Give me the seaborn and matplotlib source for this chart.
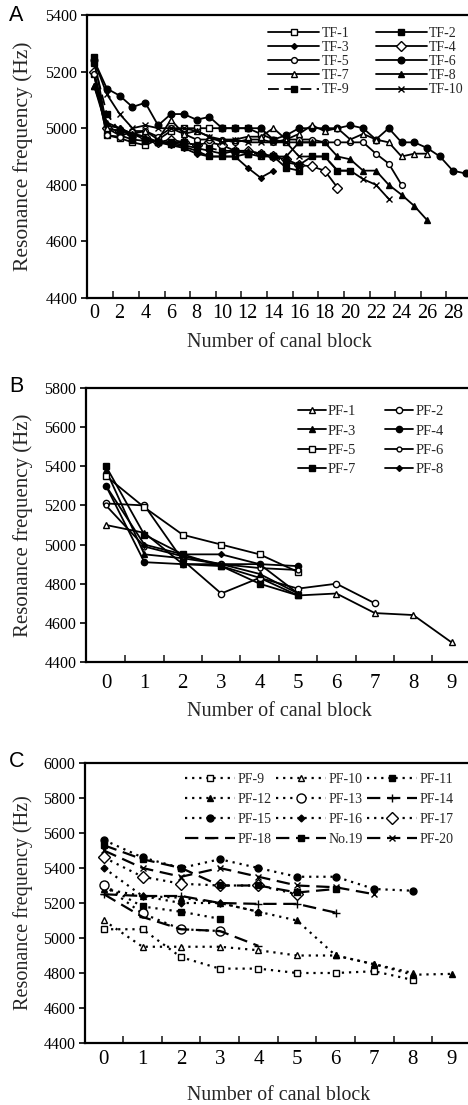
import numpy as np
import pandas as pd
import matplotlib
matplotlib.use("Agg")
import matplotlib.pyplot as plt
import seaborn as sns

# ---------------- data ----------------
# Panel A (TF series)
tf_names = ["TF-1", "TF-2", "TF-3", "TF-4", "TF-5", "TF-6", "TF-7", "TF-8", "TF-9", "TF-10"]
tf1 = [5190, 4975, 4965, 4950, 4940, 4960, 4990, 5000, 5000, 5000, 5000, 5000, 5000, 4980, 4960, 4950, 4950, 4950]
tf2 = [5250, 5000, 4975, 4960, 4955, 4950, 4945, 4935, 4920, 4900, 4900, 4900, 4910, 4900, 4900, 4860, 4850]
tf3 = [5200, 5010, 5000, 4980, 4960, 4950, 4940, 4930, 4910, 4900, 4900, 4900, 4860, 4825, 4850]
tf4 = [5200, 5000, 4990, 4980, 4970, 4950, 4960, 4950, 4940, 4950, 4940, 4920, 4920, 4910, 4900, 4890, 4870,
       4865, 4850, 4790]
tf5 = [5190, 4975, 4970, 4990, 4990, 4970, 5000, 4980, 4960, 4960, 4960, 4950, 4960, 4960, 4950, 4960, 4960,
       4960, 4950, 4950, 4950, 4950, 4910, 4875, 4800]
tf6 = [5240, 5140, 5115, 5075, 5090, 5010, 5050, 5050, 5030, 5040, 5000, 5000, 5000, 5000, 4960, 4975, 5000,
       5000, 5000, 5000, 5010, 5000, 4960, 5000, 4950, 4950, 4930, 4900, 4850, 4840]
tf7 = [5150, 5000, 4990, 4980, 4990, 4960, 5030, 4980, 4990, 4970, 4960, 4960, 4970, 4970, 5000, 4960, 4980,
       5010, 4990, 5000, 4960, 4980, 4960, 4950, 4900, 4910, 4910]
tf8 = [5150, 5020, 5000, 4980, 4970, 4950, 4950, 4940, 4930, 4920, 4910, 4920, 4920, 4910, 4900, 4900, 4950,
       4950, 4950, 4900, 4890, 4850, 4850, 4800, 4765, 4725, 4675]
tf9 = [5230, 5050, 4990, 4970, 4960, 4950, 4950, 4950, 4940, 4930, 4920, 4920, 4910, 4910, 4900, 4880, 4870,
       4900, 4900, 4850, 4850]
tf10 = [5240, 5120, 5050, 5000, 5010, 5000, 5000, 5000, 4990, 4970, 4950, 4960, 4950, 4950, 4950, 4950, 4900,
        4900, 4900, 4850, 4850, 4820, 4800, 4750]
tf_values = [tf1, tf2, tf3, tf4, tf5, tf6, tf7, tf8, tf9, tf10]
tf_xticks = list(range(0, 29, 2))

# Panel B (PF-1 .. PF-8)
pfb_names = ["PF-1", "PF-2", "PF-3", "PF-4", "PF-5", "PF-6", "PF-7", "PF-8"]
pf1 = [5100, 5060, 4900, 4890, 4830, 4740, 4750, 4650, 4640, 4500]
pf2 = [5210, 5200, 4920, 4750, 4830, 4775, 4800, 4700]
pf3 = [5380, 4950, 4930, 4900, 4850, 4750]
pf4 = [5300, 4910, 4900, 4900, 4900, 4890]
pf5 = [5350, 5190, 5050, 5000, 4950, 4860]
pf6 = [5200, 4990, 4940, 4900, 4880, 4870]
pf7 = [5400, 5050, 4950, 4890, 4800, 4740]
pf8 = [5300, 5000, 4950, 4950, 4900, 4750]
pfb_values = [pf1, pf2, pf3, pf4, pf5, pf6, pf7, pf8]
pfb_xticks = list(range(0, 10))

# Panel C (PF-9 .. PF-20)
pfc_names = ["PF-9", "PF-10", "PF-11", "PF-12", "PF-13", "PF-14", "PF-15", "PF-16", "PF-17",
             "PF-18", "No.19", "PF-20"]
pf9 = [5050, 5050, 4890, 4825, 4825, 4800, 4800, 4810, 4760]
pf10 = [5100, 4950, 4950, 4950, 4930, 4900, 4900, 4850, 4800]
pf11 = [5300, 5180, 5150, 5110]
pf12 = [5280, 5240, 5230, 5200, 5150, 5100, 4900, 4850, 4790, 4795]
pf13 = [5300, 5140, 5050, 5040]
pf14 = [5250, 5240, 5240, 5200, 5195, 5195, 5145]
pf15 = [5560, 5460, 5400, 5450, 5400, 5350, 5350, 5280, 5270]
pf16 = [5400, 5240, 5200, 5200, 5150]
pf17 = [5460, 5350, 5310, 5300, 5300, 5250]
pf18 = [5250, 5120, 5050, 5040, 4955]
no19 = [5530, 5450, 5400, 5300, 5300, 5260, 5280]
pf20 = [5500, 5400, 5350, 5400, 5350, 5300, 5290, 5250]
pfc_values = [pf9, pf10, pf11, pf12, pf13, pf14, pf15, pf16, pf17, pf18, no19, pf20]
pfc_xticks = list(range(0, 10))


def long_form(names, values):
    rows = []
    for n, v in zip(names, values):
        for i, y in enumerate(v):
            rows.append((n, i, y))
    return pd.DataFrame(rows, columns=["series", "block", "freq"])


dfA = long_form(tf_names, tf_values)
dfB = long_form(pfb_names, pfb_values)
dfC = long_form(pfc_names, pfc_values)

# ---------------- styles ----------------
DOT = (0, (1, 2.2))
DASH = (0, (6, 3))
stA = {
    "TF-1": dict(marker="s", fill=False, ls="-", ms=4.2),
    "TF-2": dict(marker="s", fill=True, ls="-", ms=4.5),
    "TF-3": dict(marker="D", fill=True, ls="-", ms=3.0),
    "TF-4": dict(marker="D", fill=False, ls="-", ms=4.8),
    "TF-5": dict(marker="o", fill=False, ls="-", ms=4.2),
    "TF-6": dict(marker="o", fill=True, ls="-", ms=4.8),
    "TF-7": dict(marker="^", fill=False, ls="-", ms=4.5),
    "TF-8": dict(marker="^", fill=True, ls="-", ms=4.5),
    "TF-9": dict(marker="s", fill=True, ls=DASH, ms=4.0),
    "TF-10": dict(marker="x", fill=True, ls="-", ms=4.5),
}
stB = {
    "PF-1": dict(marker="^", fill=False, ls="-", ms=4.2),
    "PF-2": dict(marker="o", fill=False, ls="-", ms=4.5),
    "PF-3": dict(marker="^", fill=True, ls="-", ms=4.5),
    "PF-4": dict(marker="o", fill=True, ls="-", ms=4.5),
    "PF-5": dict(marker="s", fill=False, ls="-", ms=4.5),
    "PF-6": dict(marker="o", fill=False, ls="-", ms=3.5),
    "PF-7": dict(marker="s", fill=True, ls="-", ms=4.8),
    "PF-8": dict(marker="D", fill=True, ls="-", ms=3.0),
}
stC = {
    "PF-9": dict(marker="s", fill=False, ls=DOT, ms=4.5),
    "PF-10": dict(marker="^", fill=False, ls=DOT, ms=4.5),
    "PF-11": dict(marker="s", fill=True, ls=DOT, ms=4.8),
    "PF-12": dict(marker="^", fill=True, ls=DOT, ms=5.0),
    "PF-13": dict(marker="o", fill=False, ls=DOT, ms=6.5),
    "PF-14": dict(marker="+", fill=True, ls=DASH, ms=6.0),
    "PF-15": dict(marker="o", fill=True, ls=DOT, ms=5.0),
    "PF-16": dict(marker="D", fill=True, ls=DOT, ms=3.5),
    "PF-17": dict(marker="D", fill=False, ls=DOT, ms=6.0),
    "PF-18": dict(marker="_", fill=True, ls=DASH, ms=6.0),
    "No.19": dict(marker="s", fill=True, ls=DASH, ms=4.2),
    "PF-20": dict(marker="x", fill=True, ls=DASH, ms=5.0),
}

sns.set_theme(style="white")
plt.rcParams["font.family"] = ["Liberation Serif", "DejaVu Serif"]
plt.rcParams["axes.linewidth"] = 1.6

W, H = 468, 1105
fig = plt.figure(figsize=(W / 100, H / 100), dpi=100)
fig.patch.set_facecolor("white")


def add_axes_px(left, top, right, bottom):
    return fig.add_axes([left / W, 1 - bottom / H, (right - left) / W, (bottom - top) / H])


def draw(ax, df, names, styles, lw):
    for n in names:
        s = styles[n]
        sub = df[df["series"] == n]
        sns.lineplot(data=sub, x="block", y="freq", ax=ax, color="black", linewidth=lw,
                     linestyle=s["ls"], marker=s["marker"], markersize=s["ms"],
                     markerfacecolor=("black" if s["fill"] else "white"),
                     markeredgecolor="black", markeredgewidth=1.0,
                     errorbar=None, sort=False, label=n)


def style_axes(ax, box, xlim, ylim, yticks, xticks, minor, xpad, ytick_fs, xtick_fs,
               ylab_fs, xlab_fs, ylab_right_px, xlab_top_px):
    left, top, right, bottom = box
    ax.set_xlim(*xlim)
    ax.set_ylim(*ylim)
    ax.set_yticks(yticks)
    ax.set_xticks(xticks)
    ax.set_xticks(minor, minor=True)
    ax.set_xticklabels([str(t) for t in xticks], fontsize=xtick_fs)
    ax.set_yticklabels([str(t) for t in yticks], fontsize=ytick_fs)
    ax.tick_params(axis="x", which="major", length=0, pad=xpad, colors="black")
    ax.tick_params(axis="x", which="minor", direction="in", length=5, width=1.2, bottom=True)
    ax.tick_params(axis="y", which="major", direction="out", length=4, width=1.2, pad=3, left=True,
                   colors="black")
    for sp in ["left", "bottom", "top"]:
        ax.spines[sp].set_visible(True)
        ax.spines[sp].set_color("black")
        ax.spines[sp].set_linewidth(1.6)
    ax.spines["right"].set_visible(False)
    ax.set_ylabel("Resonance frequency (Hz)", fontsize=ylab_fs)
    ax.set_xlabel("Number of canal block", fontsize=xlab_fs)
    wpx = right - left
    hpx = bottom - top
    ax.yaxis.set_label_coords((ylab_right_px - left) / wpx, 0.5)
    ax.xaxis.set_label_coords(0.5, -(xlab_top_px - bottom) / hpx)
    ax.grid(False)


def legend_px(ax, x_px, y_px, ncol, fs, hl, cs, ls_):
    handles, labels = ax.get_legend_handles_labels()
    # matplotlib fills legends column by column; reorder so entries read row by row
    order = []
    for c in range(ncol):
        order += list(range(c, len(labels), ncol))
    handles = [handles[i] for i in order]
    labels = [labels[i] for i in order]
    leg = ax.legend(handles, labels, ncol=ncol, loc="upper left",
                    bbox_to_anchor=(x_px / W, 1 - y_px / H), bbox_transform=fig.transFigure,
                    frameon=False, fontsize=fs, handlelength=hl, handletextpad=0.15,
                    columnspacing=cs, labelspacing=ls_, borderpad=0, borderaxespad=0,
                    numpoints=1)
    return leg


# ---------------- Panel A ----------------
boxA = (87, 15, 472, 298)
axA = add_axes_px(*boxA)
draw(axA, dfA, tf_names, stA, 1.3)
style_axes(axA, boxA, (-0.55, 29.5), (4400, 5400), list(range(4400, 5401, 200)), tf_xticks,
           [x + 1.5 for x in range(0, 28, 2)], 4, 11.5, 14.5, 15.5, 14.5, 33, 333)
legend_px(axA, 268, 27, 2, 10, 3.7, 1.9, 0.08)

# ---------------- Panel B ----------------
boxB = (86, 388, 472, 662)
axB = add_axes_px(*boxB)
draw(axB, dfB, pfb_names, stB, 1.3)
style_axes(axB, boxB, (-0.52, 9.53), (4400, 5800), list(range(4400, 5801, 200)), pfb_xticks,
           [x + 0.5 for x in range(0, 9)], 9, 11.5, 15, 15, 14.5, 33, 702)
legend_px(axB, 298, 405, 2, 10.5, 1.9, 2.0, 0.42)

# ---------------- Panel C ----------------
boxC = (85, 763, 472, 1043)
axC = add_axes_px(*boxC)
draw(axC, dfC, pfc_names, stC, 1.6)
style_axes(axC, boxC, (-0.49, 9.53), (4400, 6000), list(range(4400, 6001, 200)), pfc_xticks,
           [x + 0.5 for x in range(0, 9)], 5, 11.5, 15, 14.5, 14.3, 33, 1086)
legend_px(axC, 185, 773, 3, 10, 3.6, 0.35, 0.5)

# panel letters
for letter, ytop in [("A", 5), ("B", 376), ("C", 751)]:
    fig.text(9 / W, 1 - ytop / H, letter, fontsize=15.5, family=["Liberation Sans", "DejaVu Sans"],
             va="top", ha="left", color="black")

fig.savefig("out.png", dpi=100, facecolor="white")
